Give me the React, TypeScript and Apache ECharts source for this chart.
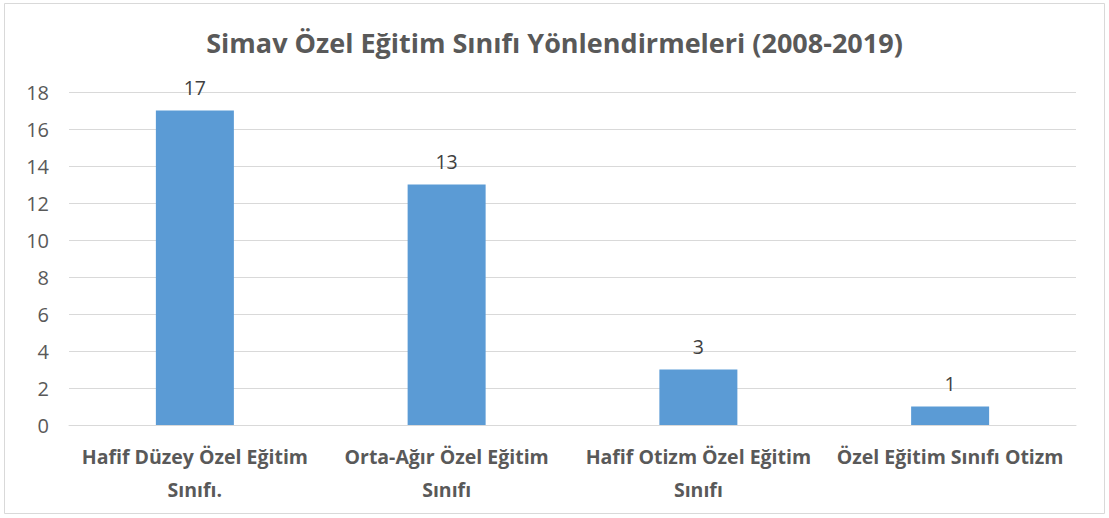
import React, { useEffect, useRef } from "react";
import * as echarts from "echarts";

const categories = [
  "Hafif Düzey Özel Eğitim\nSınıfı.",
  "Orta-Ağır Özel Eğitim\nSınıfı",
  "Hafif Otizm Özel Eğitim\nSınıfı",
  "Özel Eğitim Sınıfı Otizm",
];
const values = [17, 13, 3, 1];
const titleText = "Simav Özel Eğitim Sınıfı Yönlendirmeleri (2008-2019)";

const FONT = "'Open Sans', 'Noto Sans', sans-serif";

export default function App() {
  const ref = useRef<HTMLDivElement>(null);
  useEffect(() => {
    document.body.style.margin = "0";
    const chart = echarts.init(ref.current!, null, { renderer: "svg" });
    chart.setOption({
      animation: false,
      backgroundColor: "#ffffff",
      title: {
        text: titleText,
        left: "center",
        top: 24,
        textStyle: { fontFamily: FONT, fontSize: 27, fontWeight: "bold", color: "#595959" },
      },
      graphic: [
        {
          type: "rect",
          shape: { x: 4.5, y: 3.5, width: 1100, height: 510 },
          style: { fill: "none", stroke: "#d9d9d9", lineWidth: 1 },
          silent: true,
        },
      ],
      grid: { left: 69, right: 33, top: 92, bottom: 93 },
      xAxis: {
        type: "category",
        data: categories,
        axisLine: { lineStyle: { color: "#d9d9d9" } },
        axisTick: { show: false },
        axisLabel: {
          fontFamily: FONT,
          fontSize: 19.5,
          fontWeight: "bold",
          color: "#595959",
          interval: 0,
          margin: 15,
          lineHeight: 33,
        },
      },
      yAxis: {
        type: "value",
        min: 0,
        max: 18,
        interval: 2,
        axisLine: { show: false },
        axisTick: { show: false },
        splitLine: { lineStyle: { color: "#d9d9d9" } },
        axisLabel: { fontFamily: FONT, fontSize: 20, color: "#595959", margin: 20 },
      },
      series: [
        {
          type: "bar",
          data: values,
          barWidth: 78,
          itemStyle: { color: "#5b9bd5" },
          label: {
            show: true,
            position: "top",
            distance: 13,
            fontFamily: FONT,
            fontSize: 19.5,
            color: "#404040",
          },
        },
      ],
    });
    return () => chart.dispose();
  }, []);
  return <div ref={ref} style={{ width: 1109, height: 518 }} />;
}
